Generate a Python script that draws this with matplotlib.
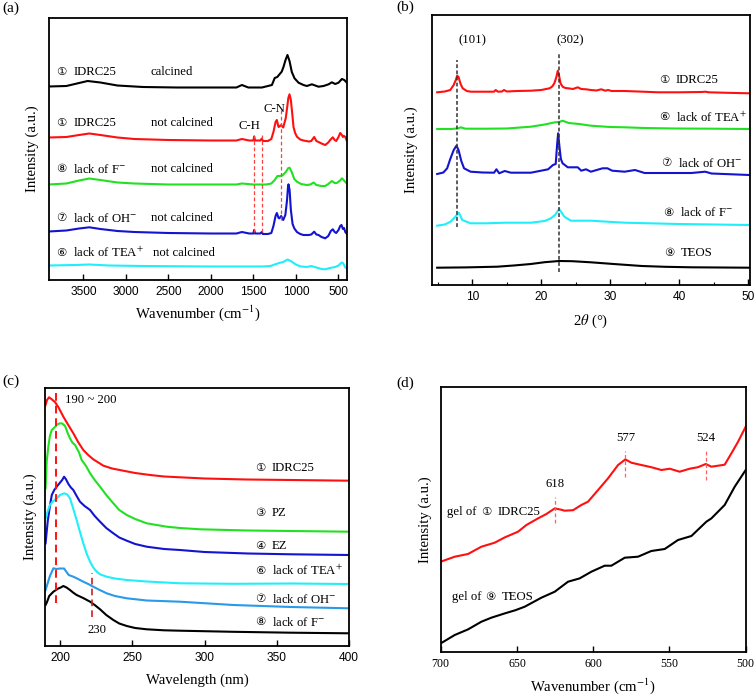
import matplotlib
matplotlib.use("Agg")
import matplotlib.pyplot as plt
from matplotlib.ticker import MultipleLocator

plt.rcParams['mathtext.fontset'] = 'stix'
SERIF = ['Liberation Serif', 'DejaVu Sans']
SANS = ['Liberation Sans', 'DejaVu Sans']

# ---------------- (a) FT-IR spectra (heights in a.u.) ----------------
a_black_x = [3910, 3700, 3600, 3450, 3300, 3100, 2800, 2400, 2000, 1700, 1636, 1560, 1400, 1283,
             1250, 1220, 1168, 1147, 1123, 1100, 1076, 1049, 1017, 970, 912, 872, 813, 735, 676,
             617, 578, 539, 500, 460, 432, 401]
a_black_y = [193.5, 194, 196, 199, 197.5, 194.5, 193, 192.5, 192.5, 192.5, 195, 192.5, 192.5, 195,
             202, 203, 208.3, 213, 220, 225, 219, 208, 201.7, 197.3, 195, 194, 195.7, 193.3, 194,
             195.7, 197.7, 196, 197.3, 201, 200, 197.3]

a_red_x = [3910, 3700, 3550, 3430, 3300, 3100, 2900, 2500, 2000, 1700, 1636, 1550, 1500, 1492,
           1480, 1420, 1401, 1390, 1330, 1290, 1265, 1240, 1225, 1205, 1194, 1174, 1150, 1120,
           1100, 1090, 1076, 1060, 1040, 1029, 1010, 989, 950, 912, 850, 820, 786, 760, 735, 700,
           656, 620, 598, 567, 545, 527, 500, 480, 460, 448, 435, 420, 401]
a_red_y = [142.5, 143, 145, 146.5, 145, 142.5, 141, 140, 139.5, 139.5, 141, 139.5, 139.5, 143.5,
           139.5, 139.5, 141.5, 139, 139, 141, 148, 158, 160, 153, 153.5, 155, 152.5, 162,
           175, 182, 185.7, 180, 163, 153, 147, 143.3, 140.5, 139.5, 138.5, 139, 143, 139, 138, 136.5,
           135, 137.5, 140, 142.7, 140, 139, 143, 147, 145, 143, 144, 143, 139]

a_green_x = [3910, 3700, 3550, 3430, 3300, 3100, 2900, 2500, 2000, 1700, 1636, 1500, 1350, 1290,
             1250, 1218, 1190, 1160, 1120, 1090, 1076, 1050, 1020, 989, 940, 872, 830, 793, 760,
             700, 656, 620, 578, 545, 520, 480, 460, 440, 420, 401]
a_green_y = [95.5, 96.5, 99.5, 101.5, 100, 97.5, 96.5, 95.5, 95.5, 95.5, 96.5, 95.5, 95.5, 96.5,
             100, 104, 104, 104.5, 108, 112, 112.3, 108, 101, 98.3, 96, 95, 95.5, 97.5, 95,
             94, 94, 96, 99, 97, 97, 99.5, 101.7, 100, 98, 96.5]

a_blue_x = [3910, 3700, 3550, 3430, 3300, 3100, 2900, 2500, 2000, 1700, 1636, 1550, 1500, 1492,
            1480, 1420, 1401, 1390, 1330, 1290, 1265, 1240, 1225, 1205, 1194, 1174, 1150, 1125,
            1105, 1095, 1088, 1075, 1060, 1040, 1020, 989, 950, 912, 850, 820, 786, 760, 735, 700,
            656, 620, 590, 567, 545, 527, 500, 480, 465, 448, 435, 420, 401]
a_blue_y = [48.5, 49.5, 51.5, 52.7, 51, 49, 48, 47, 46.5, 46.5, 48, 46.5, 46.5, 50,
            46.5, 46.5, 48, 46, 46, 47, 54, 64, 67, 62, 61.7, 64, 60, 65,
            80, 92, 95.7, 90, 70, 56, 51.7, 48, 46, 45, 45, 45.5, 48.3, 45.5, 45, 43,
            41.7, 44, 49, 50.7, 48, 47, 50, 54, 55, 51, 52, 48, 46]

a_cyan_x = [3910, 3600, 3430, 3200, 2800, 2000, 1600, 1400, 1300, 1250, 1200, 1150, 1100, 1060,
            1020, 989, 940, 872, 820, 760, 700, 656, 600, 540, 500, 470, 455, 440, 420, 401]
a_cyan_y = [14.5, 15, 15.5, 14.5, 14, 13.5, 13.5, 13.5, 14, 15.5, 17, 18, 20.5, 19,
            16.5, 15, 13.5, 13, 14, 12.5, 11, 10.7, 12, 13, 14.5, 17, 17.5, 16, 12.5, 11.5]

a_nums = ['\u2460', '\u2460', '\u2467', '\u2466', '\u2465']
a_names = ['IDRC25', 'IDRC25', 'lack of F$^{-}$', 'lack of OH$^{-}$', 'lack of TEA$^{+}$']
a_states = ['calcined', 'not calcined', 'not calcined', 'not calcined', 'not calcined']
a_label_y = [208.3, 156.7, 110.7, 61.7, 27.3]
a_state_x = [2710, 2710, 2710, 2700, 2680]
a_ch_lines = [1492, 1401]
a_cn_line = 1178

# ---------------- (b) XRD ----------------
b_red_x = [4.9, 6.0, 6.8, 7.3, 7.6, 7.8, 8.0, 8.3, 8.6, 9.2, 9.8, 11.0, 12.5, 13.15, 13.4, 13.7, 14.3,
           14.6, 15.0, 16.5, 18.5, 20.0, 21.2, 21.6, 21.9, 22.2, 22.4, 22.6, 22.8, 23.1, 23.5, 23.9,
           24.6, 25.3, 25.8, 26.5, 27.2, 28.0, 28.7, 29.3, 29.7, 30.2, 32.1, 34.0, 37.0, 40.0, 43.3,
           43.8, 44.3, 47.0, 50.2]
b_red_y = [192.7, 193.5, 195, 200, 205, 209.3, 208, 201, 196.7, 194, 193.3, 193.3, 193.3, 193.3, 195,
           193.3, 193.5, 195, 193.5, 194, 194.3, 195, 196.7, 198.5, 201.7, 208, 214.3, 209, 201.7,
           198.3, 197, 196.7, 196, 197.7, 196, 195.7, 195, 194.5, 195.7, 194.3, 195, 194, 194, 193.5,
           192.7, 192.7, 193, 193.3, 192.7, 192.2, 191.7]

b_green_x = [4.9, 7.0, 8.0, 8.3, 9.0, 12, 15, 18.5, 20.5, 22.0, 22.6, 23.1, 23.4, 24.0, 25.5, 27.2,
             30, 32.1, 35, 39.4, 45, 50.2]
b_green_y = [156, 156, 156.7, 157.7, 156.3, 156.3, 156.5, 158.3, 160.5, 162.7, 163, 164.3, 163.5,
             162, 161, 159.3, 158, 157.7, 157, 156.5, 156.3, 156]

b_blue_x = [4.9, 5.8, 6.35, 6.8, 7.3, 7.7, 8.0, 8.4, 8.8, 9.75, 11.5, 13.15, 13.5, 13.9, 14.7, 15.6,
            18.5, 21.0, 21.7, 22.1, 22.3, 22.45, 22.65, 22.85, 23.1, 23.85, 25.3, 25.8, 26.5, 27.2,
            28.9, 29.6, 30.3, 32.1, 33.6, 35.0, 37.0, 41.8, 43.8, 44.7, 50.2]
b_blue_y = [111, 112.5, 116.7, 126, 135, 139.3, 135, 124, 116.7, 113.3, 112.5, 112.3, 115.7, 111.7,
            114, 112.3, 112.3, 115.7, 120, 121, 140, 151.7, 138, 126, 121.7, 117.7, 117.7, 114.3,
            115.7, 113.3, 116.7, 116.7, 114.3, 113.3, 115, 112, 112, 112, 113.3, 111.5, 110]

b_cyan_x = [4.9, 6.0, 6.84, 7.5, 8.05, 8.54, 9.75, 12, 14.8, 18.5, 20.5, 21.4, 22.0, 22.6, 23.0,
            23.35, 24.3, 27.2, 29.6, 32.1, 40, 50.2]
b_cyan_y = [59.3, 60.5, 63.3, 68, 72.3, 65, 61.7, 61.7, 62.3, 62.3, 64, 66.7, 70, 76, 72, 68.3,
            64.3, 64.3, 63.3, 62.3, 61, 60]

b_black_x = [4.9, 9, 13.6, 16, 18.5, 20.5, 22.6, 24.5, 27.2, 30.5, 34.6, 38, 41.8, 46, 50.2]
b_black_y = [17.3, 17.6, 18.3, 19.5, 21, 22.8, 24, 23.8, 22.7, 21, 19, 18.2, 17.7, 17.5, 17.3]

b_nums = ['\u2460', '\u2465', '\u2466', '\u2467', '\u2468']
b_names = ['IDRC25', 'lack of TEA$^{+}$', 'lack of OH$^{-}$', 'lack of F$^{-}$', 'TEOS']
b_label_x = [37.1, 37.1, 37.4, 37.7, 37.8]
b_label_y = [205, 167.7, 121.7, 72.3, 32.3]
b_peaks = ['(101)', '(302)']
b_peak_x = [7.8, 22.6]

# ---------------- (c) UV-vis ----------------
c_red_x = [190, 191, 192.4, 194, 196.5, 199, 202.3, 205.5, 209.2, 212.5, 216.1, 219.5, 223, 230, 236,
           243.8, 252, 262.3, 272, 283, 300, 329, 360, 400]
c_red_y = [241, 246, 248.7, 247, 244, 238.5, 229.3, 221.5, 212.7, 204, 196, 191, 186.7, 180.3, 177.5,
           175.3, 173, 171, 169.5, 168.7, 167.5, 166.5, 166, 165.3]

c_green_x = [190, 190.8, 191.9, 193, 194.3, 196.5, 198, 200, 201.5, 203.5, 205, 206.9, 208.5, 210.4,
             213, 215, 218, 220.8, 224, 227.7, 232, 236.9, 241, 246.2, 252, 260, 273.8, 283, 297,
             330, 360, 400]
c_green_y = [157.7, 185, 199.3, 210, 216, 219, 221.5, 222.7, 222.5, 220, 214, 207.6, 203.5, 201, 194,
             186, 180, 172.7, 166, 159.3, 151, 142.7, 136, 131, 127, 122.7, 119.3, 118, 116.7, 115.5,
             115, 114.3]

c_blue_x = [190, 191.5, 193, 194.3, 196, 197.7, 199.5, 201.5, 202.8, 204, 205.8, 207.5, 209.2, 211.5,
            213.8, 217, 220.8, 224, 227.7, 232, 236.9, 241, 246.2, 252, 260, 272, 283, 300, 330,
            360, 400]
c_blue_y = [102.7, 125, 140, 151, 156, 159.3, 162.5, 166, 169.3, 167, 162, 158.5, 156, 150, 144.3,
            140, 136, 130, 124.3, 118, 112.7, 108.5, 105.3, 102, 99.3, 97, 96, 94, 92.5, 91.7, 91]

c_cyan_x = [190, 191.5, 193, 195, 197.7, 200, 202.8, 205, 206.9, 209, 211.5, 214, 216.1, 218.5,
            220.8, 223, 225.4, 228, 232.3, 238, 246.2, 260, 283, 320, 360, 400]
c_cyan_y = [127.7, 135, 141, 144.5, 147.7, 151, 152.7, 151.5, 147.7, 138, 126, 113, 102.7, 92, 84.3,
            78.5, 74.3, 71.5, 69.3, 67.5, 66, 64.5, 62.7, 62.2, 62.5, 62]

c_lblue_x = [190, 191.5, 193, 195.4, 197.5, 200, 202.8, 204.5, 206, 209.2, 212.5, 216.1, 219.5, 223,
             227.5, 232.3, 238, 246.2, 260, 283, 320, 360, 400]
c_lblue_y = [56, 63, 70, 77.7, 77, 77.5, 77.5, 74, 71, 69.3, 67, 64.3, 62, 59.3, 56, 52.7, 50, 47.7,
             45.5, 44.3, 41, 39, 37.7]

c_black_x = [190, 191, 192.5, 195.4, 198.8, 200.5, 202.3, 204.5, 206.9, 209, 211.5, 216, 220.8, 224,
             227.7, 232, 236.9, 241, 246.2, 252, 260, 272, 283, 320, 360, 400]
c_black_y = [41, 44, 50, 54.3, 57.5, 58.5, 60, 58.5, 56, 53.5, 51, 48, 44.3, 41, 36.7, 31, 26, 22.5,
             20, 18, 16.7, 15.7, 15.3, 14.2, 13.3, 12.7]

c_nums = ['\u2460', '\u2462', '\u2463', '\u2465', '\u2466', '\u2467']
c_names = ['IDRC25', 'PZ', 'EZ', 'lack of TEA$^{+}$', 'lack of OH$^{-}$', 'lack of F$^{-}$']
c_label_y = [178.3, 132.7, 100.3, 75.3, 46.7, 23.7]

# ---------------- (d) low-wavenumber IR of gels ----------------
d_red_x = [700, 690.8, 682.1, 673.3, 664.6, 658, 649.3, 643.8, 636.2, 630.7, 625.2, 621, 618.7, 613.2,
           607.8, 603.4, 596.8, 590.3, 583.7, 578.9, 575, 568.4, 561.9, 555.3, 549.8, 543.3, 536.7,
           531.3, 526.2, 522.5, 518.1, 513.8, 509.4, 505, 500]
d_red_y = [90, 95, 97.7, 105, 109, 114.3, 120, 126.7, 133.3, 137.7, 143.3, 142, 141, 141.5, 146.7,
           150, 161.7, 173.3, 186.7, 192.3, 189, 186.7, 184.5, 181.7, 183, 180, 183, 184.5, 187.7,
           185, 186, 187, 198.3, 210, 225]

d_black_x = [700, 690.8, 682.1, 673.3, 666.8, 658, 651, 644.9, 634, 625.2, 616.5, 608.9, 601.2,
             592.5, 588.1, 579.3, 570.6, 561.9, 553.1, 544.4, 535.6, 525.8, 522.5, 513.8, 507.2, 500]
d_black_y = [8.3, 16.7, 22.3, 30, 34, 38.3, 41.5, 45, 54, 60, 70, 73.3, 80, 86, 86, 94, 95, 100.7,
             102.7, 111.7, 115.7, 130, 133.3, 146.7, 165, 181.7]

d_peaks = ['618', '577', '524']
d_peak_x = [625.2, 578.9, 526.2]

RED, GREEN, BLUE, CYAN, LBLUE = '#ff1010', '#22e022', '#1414d0', '#20eefa', '#2a9ae8'
LW = 1.5
LABEL_FS = 9.2
TICK_FS = 8.6
AXLAB_FS = 10.6

fig = plt.figure(figsize=(7.56, 6.96), dpi=100)
W, H = 756.0, 696.0


def add_axes(l, t, r, b):
    return fig.add_axes([l / W, 1 - b / H, (r - l) / W, (b - t) / H])


def label(ax, x, y, s, **kw):
    ax.text(x, y, s, fontsize=LABEL_FS, family=SERIF, va='center', **kw)


def circ_label(ax, x, y, num, name, prefix=None):
    # circled number needs DejaVu; the rest is set in a Times-like face
    off = 0
    if prefix:
        ax.annotate(prefix, (x, y), fontsize=LABEL_FS, family=SERIF, va='center', ha='left')
        off = 24
    ax.annotate(num, (x, y), xytext=(off, 0), textcoords='offset points',
                fontsize=LABEL_FS * 0.9, family='DejaVu Sans', va='center', ha='left')
    ax.annotate(name, (x, y), xytext=(off + 12, 0), textcoords='offset points',
                fontsize=LABEL_FS, family=SERIF, va='center', ha='left')


def style(ax, tick_family, xlab, xlab_y, ylab_x):
    for s in ax.spines.values():
        s.set_linewidth(1.3)
    ax.set_yticks([])
    ax.tick_params(axis='x', direction='in', length=4, width=1, pad=4.5, labelsize=TICK_FS,
                   labelfontfamily=tick_family)
    ax.set_xlabel(xlab, fontsize=AXLAB_FS, family=SERIF, va='center')
    ax.xaxis.set_label_coords(0.5, xlab_y)
    ax.set_ylabel('Intensity (a.u.)', fontsize=AXLAB_FS, family=SERIF, va='center')
    ax.yaxis.set_label_coords(ylab_x, 0.5)


# (a)
ax = add_axes(48.5, 18.3, 347, 280)
ax.plot(a_black_x, a_black_y, color='black', lw=LW)
ax.plot(a_red_x, a_red_y, color=RED, lw=LW)
ax.plot(a_green_x, a_green_y, color=GREEN, lw=LW)
ax.plot(a_blue_x, a_blue_y, color=BLUE, lw=LW)
ax.plot(a_cyan_x, a_cyan_y, color=CYAN, lw=LW)
for xv in a_ch_lines:
    ax.plot([xv, xv], [48, 145], color='#ff4040', lw=0.9, ls=(0, (3, 2)))
ax.plot([a_cn_line, a_cn_line], [60, 170], color='#ff4040', lw=0.9, ls=(0, (3, 2)))
label(ax, 1547, 154, 'C-H', ha='center')
label(ax, 1256, 171, 'C-N', ha='center')
for num, name, state, sx, yv in zip(a_nums, a_names, a_states, a_state_x, a_label_y):
    circ_label(ax, 3815, yv, num, name)
    label(ax, sx, yv, state, ha='left')
ax.set_xlim(3910, 400)
ax.set_ylim(0, 261.7)
ax.set_xticks([3500, 3000, 2500, 2000, 1500, 1000, 500])
style(ax, SANS, 'Wavenumber (cm$^{-1}$)', -0.127, -0.055)

# (b)
ax = add_axes(432, 15, 749.7, 285)
ax.plot(b_red_x, b_red_y, color=RED, lw=LW)
ax.plot(b_green_x, b_green_y, color=GREEN, lw=LW)
ax.plot(b_blue_x, b_blue_y, color=BLUE, lw=LW)
ax.plot(b_cyan_x, b_cyan_y, color=CYAN, lw=LW)
ax.plot(b_black_x, b_black_y, color='black', lw=LW)
ax.plot([b_peak_x[0]] * 2, [58.3, 225], color='#333333', lw=1.1, ls=(0, (2.5, 1.5)))
ax.plot([b_peak_x[1]] * 2, [13.3, 231.7], color='#333333', lw=1.1, ls=(0, (2.5, 1.5)))
label(ax, 10.0, 244.3, b_peaks[0], ha='center')
label(ax, 24.2, 244.3, b_peaks[1], ha='center')
for num, name, xv, yv in zip(b_nums, b_names, b_label_x, b_label_y):
    circ_label(ax, xv, yv, num, name)
ax.set_xlim(4.15, 50.25)
ax.set_ylim(0, 270)
ax.set_xticks([10, 20, 30, 40, 50])
ax.xaxis.set_minor_locator(MultipleLocator(5))
ax.tick_params(axis='x', which='minor', direction='in', length=2.5, width=0.8)
style(ax, SANS, '2$\\theta$ (\u00b0)', -0.136, -0.066)

# (c)
ax = add_axes(45, 388.3, 349, 646)
ax.plot(c_red_x, c_red_y, color=RED, lw=LW)
ax.plot(c_green_x, c_green_y, color=GREEN, lw=LW)
ax.plot(c_blue_x, c_blue_y, color=BLUE, lw=LW)
ax.plot(c_cyan_x, c_cyan_y, color=CYAN, lw=LW)
ax.plot(c_lblue_x, c_lblue_y, color=LBLUE, lw=LW)
ax.plot(c_black_x, c_black_y, color='black', lw=LW)
ax.plot([197.2, 197.2], [42.7, 256], color=RED, lw=1.4, ls=(0, (4, 2.5)))
ax.plot([221.9, 221.9], [29.3, 72.7], color='#cc2020', lw=1.2, ls=(0, (4, 2.5)))
label(ax, 203.5, 246, '190 ~ 200', ha='left')
label(ax, 225.4, 16, '230', ha='center')
for num, name, yv in zip(c_nums, c_names, c_label_y):
    circ_label(ax, 335, yv, num, name)
ax.set_xlim(189.6, 400)
ax.set_ylim(0, 257.7)
ax.set_xticks([200, 250, 300, 350, 400])
style(ax, SANS, 'Wavelength (nm)', -0.132, -0.05)

# (d)
ax = add_axes(440.7, 387.3, 745.7, 651.7)
ax.plot(d_red_x, d_red_y, color=RED, lw=LW)
ax.plot(d_black_x, d_black_y, color='black', lw=LW)
d_line_lo = [129, 175, 171.7]
d_line_hi = [155, 201, 201]
d_text_y = [167.7, 213.3, 213.3]
for lab, xv, lo, hi, ty in zip(d_peaks, d_peak_x, d_line_lo, d_line_hi, d_text_y):
    ax.plot([xv, xv], [lo, hi], color='#ff6060', lw=0.9, ls=(0, (3, 2)))
    label(ax, xv, ty, lab, ha='center')
circ_label(ax, 695.6, 140, '\u2460', 'IDRC25', prefix='gel of')
circ_label(ax, 692.6, 55, '\u2468', 'TEOS', prefix='gel of')
ax.set_xlim(700, 500)
ax.set_ylim(0, 264.4)
ax.set_xticks([700, 650, 600, 550, 500])
style(ax, SERIF, 'Wavenumber (cm$^{-1}$)', -0.132, -0.05)

for lab, px, py in [('(a)', 2, 8), ('(b)', 396, 7), ('(c)', 2, 381.7), ('(d)', 396, 383.3)]:
    fig.text(px / W, 1 - py / H, lab, fontsize=11, family=SERIF, ha='left', va='center')

fig.savefig('out.png', dpi=100)
